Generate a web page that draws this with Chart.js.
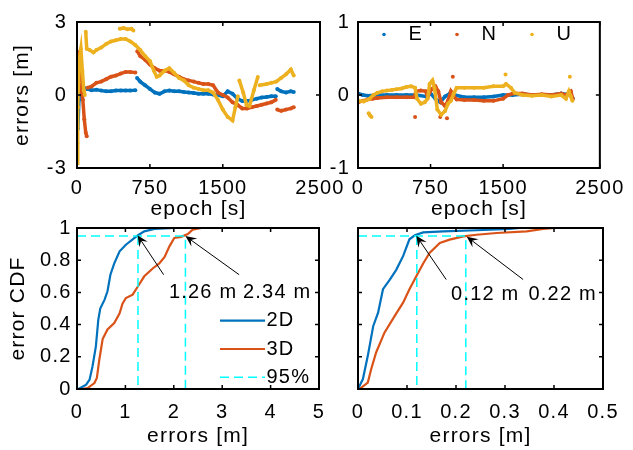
<!DOCTYPE html>
<html>
<head>
<meta charset="utf-8">
<script src="https://cdn.jsdelivr.net/npm/chart.js@4.4.0/dist/chart.umd.min.js"></script>
<style>
  html, body { margin: 0; padding: 0; background: #fff; }
  #wrap { position: relative; width: 633px; height: 450px; }
  .box { position: absolute; left: 0; top: 0; width: 633px; height: 450px; }
</style>
</head>
<body>
<div id="wrap">
  <div class="box"><canvas id="c1"></canvas></div>
  <div class="box"><canvas id="c2"></canvas></div>
  <div class="box"><canvas id="c3"></canvas></div>
  <div class="box"><canvas id="c4"></canvas></div>
</div>
<script>
// ---- data ----
// top left: errors [m] over epoch [s]
const epochE1 = [0, 8, 20, 40, 70, 100, 150, 200, 250, 300, 350, 400, 450, 500, 550, 600, 608, 618, 650, 700, 750, 800, 850, 900, 950, 1000, 1050, 1100, 1150, 1200, 1250, 1300, 1350, 1400, 1450, 1500, 1550, 1600, 1650, 1700, 1750, 1800, 1850, 1900, 1950, 2000, 2045, 2052, 2060, 2100, 2150, 2200, 2230];
const errE1 = [0.1, -1.4, -0.2, 0.35, 0.3, 0.25, 0.2, 0.22, 0.18, 0.15, 0.15, 0.18, 0.18, 0.18, 0.18, 0.2, null, 0.7, 0.55, 0.4, 0.25, 0.1, 0.05, 0.15, 0.18, 0.15, 0.15, 0.12, 0.1, 0.08, 0.05, 0.05, 0.05, 0.02, 0.0, -0.05, 0.15, 0.05, -0.15, -0.25, -0.25, -0.2, -0.15, -0.1, -0.08, -0.05, -0.05, null, 0.25, 0.15, 0.1, 0.15, 0.12];

const epochN1 = [0, 10, 20, 30, 45, 60, 75, 90, 100, 105, 110, 150, 200, 250, 300, 350, 400, 450, 500, 550, 600, 610, 620, 650, 700, 750, 800, 850, 900, 950, 1000, 1050, 1100, 1150, 1200, 1250, 1300, 1350, 1400, 1450, 1500, 1550, 1600, 1650, 1700, 1750, 1800, 1850, 1900, 1950, 2000, 2045, 2052, 2060, 2100, 2150, 2200, 2230];
const errN1 = [1.8, 1.5, 1.2, 0.8, 0.2, -0.2, -1.0, -1.55, -1.7, null, 0.3, 0.35, 0.5, 0.55, 0.65, 0.75, 0.8, 0.88, 0.95, 0.95, 0.92, null, 1.8, 1.6, 1.45, 1.25, 1.1, 1.0, 1.0, 0.95, 0.85, 0.75, 0.65, 0.6, 0.55, 0.5, 0.45, 0.45, 0.4, 0.1, 0.0, -0.1, -0.3, -0.4, -0.55, -0.55, -0.5, -0.45, -0.4, -0.35, -0.3, -0.2, null, -0.6, -0.65, -0.6, -0.55, -0.5];

const epochU1 = [0, 5, 10, 15, 25, 40, 55, 70, 80, 85, 90, 100, 130, 170, 200, 250, 300, 350, 400, 450, 500, 550, 600, 650, 700, 750, 790, 820, 850, 900, 950, 1000, 1050, 1100, 1150, 1200, 1250, 1300, 1350, 1400, 1450, 1500, 1550, 1600, 1630, 1655, 1662, 1670, 1710, 1745, 1775, 1820, 1860, 1870, 1880, 1950, 2000, 2050, 2100, 2150, 2200, 2230, 2235, 440, 480, 520, 560, 580];
const errU1 = [-2.8, -2.0, -0.5, 0.5, 1.5, 1.9, 1.0, 0.2, 0.0, null, 2.6, 1.9, 1.85, 1.75, 1.85, 1.95, 2.1, 2.2, 2.25, 2.3, 2.3, 2.2, 2.05, 1.85, 1.6, 1.4, 1.0, 0.75, 0.8, 1.0, 1.1, 0.9, 0.7, 0.6, 0.4, 0.3, 0.25, 0.2, 0.2, 0.1, -0.2, -0.6, -0.9, -1.05, -0.5, -0.05, null, 0.6, 0.1, -0.42, -0.45, 0.2, 0.74, null, 0.4, 0.45, 0.5, 0.55, 0.7, 0.85, 1.05, 0.8, null, 2.72, 2.75, 2.7, 2.72, 2.65];

// top right
const epochE2 = [0, 50, 100, 200, 300, 400, 500, 600, 700, 750, 800, 850, 900, 950, 1000, 1100, 1200, 1300, 1400, 1500, 1600, 1700, 1800, 1900, 2000, 2100, 2200, 2220];
const errE2 = [0.02, 0.0, -0.01, 0.0, 0.0, 0.0, 0.0, 0.0, -0.02, 0.02, -0.05, -0.1, -0.02, 0.02, 0.0, -0.03, -0.03, -0.03, -0.02, 0.0, 0.0, 0.01, 0.0, 0.0, 0.0, 0.02, 0.0, -0.05];

const epochN2 = [0, 50, 100, 150, 200, 300, 400, 500, 580, 600, 650, 700, 720, 760, 800, 830, 860, 900, 930, 960, 990, 1020, 1100, 1200, 1300, 1400, 1500, 1550, 1600, 1700, 1800, 1900, 2000, 2100, 2150, 2200, 2220, 2225, 590, 595, 850, 855, 920, 925, 980];
const errN2 = [-0.1, -0.08, -0.06, -0.05, -0.04, -0.03, -0.03, -0.03, -0.03, 0.05, 0.06, 0.05, -0.02, 0.08, 0.12, 0.05, -0.1, -0.15, -0.08, 0.05, -0.02, -0.06, -0.07, -0.07, -0.08, -0.08, -0.05, 0.0, 0.02, 0.02, 0.0, 0.01, 0.0, 0.02, 0.0, 0.05, -0.05, null, -0.3, null, -0.3, null, -0.32, null, 0.25];

const epochU2 = [0, 60, 120, 160, 200, 250, 300, 350, 400, 450, 500, 550, 590, 610, 650, 690, 720, 740, 770, 790, 820, 860, 900, 930, 960, 990, 1020, 1100, 1200, 1300, 1400, 1500, 1530, 1580, 1620, 1700, 1800, 1900, 2000, 2100, 2150, 2180, 2200, 2217, 2220, 110, 125, 140, 145, 1525, 1530, 2190];
const errU2 = [-0.08, -0.09, -0.05, 0.0, 0.03, 0.05, 0.06, 0.07, 0.08, 0.09, 0.11, 0.12, 0.1, -0.05, -0.12, -0.1, -0.05, 0.15, 0.2, 0.1, -0.2, -0.27, -0.22, -0.12, -0.08, 0.02, 0.1, 0.1, 0.1, 0.1, 0.12, 0.12, 0.15, 0.1, 0.03, 0.0, -0.01, 0.0, -0.02, 0.0, -0.05, 0.05, -0.02, -0.08, null, -0.25, -0.28, -0.3, null, 0.28, null, 0.25];

// bottom left: CDF of errors
const cdfErr2dL = [0.03, 0.19, 0.26, 0.32, 0.39, 0.44, 0.48, 0.57, 0.63, 0.69, 0.77, 0.88, 1.01, 1.15, 1.26, 1.39, 1.6, 2.01, 2.43];
const cdfProb2dL = [0, 0.027, 0.058, 0.14, 0.265, 0.43, 0.5, 0.555, 0.607, 0.71, 0.78, 0.855, 0.896, 0.93, 0.955, 0.979, 0.994, 1.0, 1.0];
const cdfErr3dL = [0.08, 0.22, 0.36, 0.41, 0.46, 0.53, 0.63, 0.77, 0.88, 0.94, 1.01, 1.15, 1.26, 1.39, 1.57, 1.7, 1.81, 1.91, 2.01, 2.15, 2.29, 2.39, 2.57, 4.01];
const cdfProb3dL = [0, 0.006, 0.037, 0.068, 0.18, 0.31, 0.37, 0.41, 0.47, 0.53, 0.565, 0.586, 0.638, 0.7, 0.75, 0.78, 0.82, 0.886, 0.938, 0.945, 0.963, 0.99, 1.0, 1.0];
const p95LineL = [1.26, 2.24];
const p95LabelL = [1.26, 2.34];

// bottom right
const cdfErr2dR = [0, 0.01, 0.02, 0.031, 0.041, 0.051, 0.065, 0.078, 0.092, 0.105, 0.116, 0.133, 0.174, 0.242, 0.31, 0.33];
const cdfProb2dR = [0, 0.062, 0.206, 0.39, 0.474, 0.62, 0.68, 0.74, 0.825, 0.93, 0.955, 0.973, 0.979, 0.986, 0.994, 1.0];
const cdfErr3dR = [0.003, 0.02, 0.027, 0.037, 0.054, 0.075, 0.092, 0.105, 0.119, 0.133, 0.146, 0.167, 0.187, 0.215, 0.242, 0.283, 0.344, 0.378, 0.402];
const cdfProb3dR = [0, 0.04, 0.124, 0.227, 0.35, 0.454, 0.536, 0.619, 0.7, 0.78, 0.845, 0.907, 0.928, 0.948, 0.958, 0.969, 0.979, 0.994, 1.0];
const p95LineR = [0.12, 0.22];
const p95LabelR = [0.12, 0.22];

const cdfLevel = 0.95;

// tick values
const epochTicks = [0, 750, 1500, 2500];
const errTicksWide = [-3, 0, 3];
const errTicksNarrow = [-1, 0, 1];
const cdfTicks = [0, 0.2, 0.4, 0.6, 0.8, 1];
const errTicksL = [0, 1, 2, 3, 4, 5];
const errTicksR = [0, 0.1, 0.2, 0.3, 0.4, 0.5];

// ---- look ----
const BLUE = '#0072BD', ORANGE = '#D95319', YELLOW = '#EDB120', CYAN = '#00FFFF';
const FONT = '"Liberation Sans", Arial, Helvetica, sans-serif';
const LS = '1.2px';
const TICK_SIZE = 20, TITLE_SIZE = 21;

Chart.defaults.font.family = FONT;
Chart.defaults.color = '#000';
Chart.defaults.animation = false;
Chart.defaults.plugins.legend.display = false;
Chart.defaults.plugins.tooltip.enabled = false;

function xy(xs, ys) {
  return xs.map((x, i) => ({x: x, y: ys[i]}));
}

// letter spacing so the text runs as wide as in the figure
const spacing = {
  id: 'spacing',
  beforeUpdate(chart) { chart.ctx.letterSpacing = LS; },
  beforeDraw(chart) { chart.ctx.letterSpacing = LS; }
};

// box round the plot with inward tick marks on all four sides
const frame = {
  id: 'frame',
  afterDatasetsDraw(chart) {
    const {ctx, chartArea: a, scales} = chart;
    const L = 4;
    ctx.save();
    ctx.strokeStyle = '#000';
    ctx.lineWidth = 1.5;
    ctx.beginPath();
    scales.x.ticks.forEach(t => {
      const px = scales.x.getPixelForValue(t.value);
      ctx.moveTo(px, a.bottom); ctx.lineTo(px, a.bottom - L);
      ctx.moveTo(px, a.top); ctx.lineTo(px, a.top + L);
    });
    scales.y.ticks.forEach(t => {
      const py = scales.y.getPixelForValue(t.value);
      ctx.moveTo(a.left, py); ctx.lineTo(a.left + L, py);
      ctx.moveTo(a.right, py); ctx.lineTo(a.right - L, py);
    });
    ctx.stroke();
    ctx.lineWidth = 2;
    ctx.strokeRect(a.left, a.top, a.right - a.left, a.bottom - a.top);
    ctx.restore();
  }
};

// legend drawn inside the plot box, from the datasets
const key = {
  id: 'key',
  afterDraw(chart, args, opts) {
    if (!opts || !opts.entries) return;
    const {ctx, chartArea: a} = chart;
    ctx.save();
    ctx.letterSpacing = LS;
    ctx.font = TICK_SIZE + 'px ' + FONT;
    ctx.textBaseline = 'middle';
    ctx.textAlign = 'left';
    opts.entries.forEach(e => {
      const ds = chart.data.datasets[e.index];
      const x = a.left + e.dx, y = a.top + e.dy;
      if (opts.sample === 'dot') {
        ctx.fillStyle = ds.borderColor;
        ctx.beginPath(); ctx.arc(x, y, 1.8, 0, Math.PI * 2); ctx.fill();
      } else {
        ctx.strokeStyle = ds.borderColor;
        ctx.lineWidth = ds.borderWidth;
        ctx.setLineDash(ds.borderDash || []);
        ctx.beginPath(); ctx.moveTo(x, y); ctx.lineTo(x + opts.len, y); ctx.stroke();
        ctx.setLineDash([]);
      }
      ctx.fillStyle = '#000';
      ctx.fillText(ds.label, x + opts.gap, y);
    });
    ctx.restore();
  }
};

// text arrows pointing at the 95% values
const notes = {
  id: 'notes',
  afterDraw(chart, args, opts) {
    if (!opts || !opts.items) return;
    const {ctx, scales: {x, y}} = chart;
    ctx.save();
    ctx.letterSpacing = LS;
    ctx.font = TICK_SIZE + 'px ' + FONT;
    ctx.fillStyle = '#000';
    ctx.strokeStyle = '#000';
    ctx.lineWidth = 1;
    ctx.textBaseline = 'middle';
    ctx.textAlign = 'left';
    opts.items.forEach(it => {
      const x0 = x.getPixelForValue(it.tail[0]), y0 = y.getPixelForValue(it.tail[1]);
      const x1 = x.getPixelForValue(it.head[0]), y1 = y.getPixelForValue(it.head[1]);
      const ang = Math.atan2(y1 - y0, x1 - x0);
      const c = Math.cos(ang), s = Math.sin(ang);
      const len = 11, w = 5;
      ctx.beginPath(); ctx.moveTo(x0, y0); ctx.lineTo(x1 - c * 6, y1 - s * 6); ctx.stroke();
      ctx.beginPath();
      ctx.moveTo(x1, y1);
      ctx.lineTo(x1 - c * len - s * w, y1 - s * len + c * w);
      ctx.lineTo(x1 - c * len * 0.6, y1 - s * len * 0.6);
      ctx.lineTo(x1 - c * len + s * w, y1 - s * len - c * w);
      ctx.closePath();
      ctx.fill();
      ctx.fillText(it.text, x.getPixelForValue(it.at[0]), y.getPixelForValue(it.at[1]));
    });
    ctx.restore();
  }
};

Chart.register(spacing, frame, key, notes);

function axis(o) {
  return {
    type: 'linear',
    position: o.position,
    min: o.min,
    max: o.max,
    grid: {display: false, drawTicks: false},
    border: {display: false},
    afterBuildTicks: s => { s.ticks = o.ticks.map(v => ({value: v})); },
    afterFit: s => { if (o.position === 'bottom') s.height = o.size; else s.width = o.size; },
    ticks: {
      display: o.labels !== false,
      padding: o.pad,
      autoSkip: false,
      maxRotation: 0,
      minRotation: 0,
      font: {size: TICK_SIZE},
      callback: v => String(v)
    },
    title: {display: !!o.title, text: o.title || '', font: {size: TITLE_SIZE}, padding: 0}
  };
}

function track(label, color, order, xs, ys) {
  return {
    label: label, data: xy(xs, ys), order: order,
    borderColor: color, backgroundColor: color,
    borderWidth: 3.5, pointRadius: 2, pointBorderWidth: 0, pointHoverRadius: 0,
    spanGaps: false, tension: 0
  };
}

function curve(label, color, order, xs, ys) {
  return {
    label: label, data: xy(xs, ys), order: order,
    borderColor: color, backgroundColor: color,
    borderWidth: 2.2, pointRadius: 0, tension: 0
  };
}

function p95Dataset(vals) {
  const far = Math.max(...vals);
  const pts = [{x: 0, y: cdfLevel}, {x: far, y: cdfLevel}, {x: far, y: 0}];
  vals.filter(v => v !== far).forEach(v => {
    pts.push({x: v, y: null}, {x: v, y: cdfLevel}, {x: v, y: 0});
  });
  return {
    label: Math.round(cdfLevel * 100) + '%', data: pts, order: 0,
    borderColor: CYAN, borderWidth: 1.5, borderDash: [9, 5], pointRadius: 0, spanGaps: false
  };
}

const base = {responsive: true, maintainAspectRatio: false};

// top left
new Chart(document.getElementById('c1'), {
  type: 'line',
  data: {datasets: [
    track('E', BLUE, 2, epochE1, errE1),
    track('N', ORANGE, 1, epochN1, errN1),
    track('U', YELLOW, 0, epochU1, errU1)
  ]},
  options: Object.assign({}, base, {
    layout: {padding: {left: 10, top: 22, right: 313, bottom: 228}},
    scales: {
      x: axis({position: 'bottom', min: 0, max: 2500, ticks: epochTicks, pad: 8.5, size: 54, title: 'epoch [s]'}),
      y: axis({position: 'left', min: -3, max: 3, ticks: errTicksWide, pad: 10, size: 67, title: 'errors [m]'})
    }
  })
});

// top right
new Chart(document.getElementById('c2'), {
  type: 'line',
  data: {datasets: [
    track('E', BLUE, 2, epochE2, errE2),
    track('N', ORANGE, 1, epochN2, errN2),
    track('U', YELLOW, 0, epochU2, errU2)
  ]},
  options: Object.assign({}, base, {
    layout: {padding: {left: 318, top: 22, right: 28, bottom: 228}},
    scales: {
      x: axis({position: 'bottom', min: 0, max: 2500, ticks: epochTicks, pad: 8.5, size: 54, title: 'epoch [s]'}),
      y: axis({position: 'left', min: -1, max: 1, ticks: errTicksNarrow, pad: 8, size: 40})
    },
    plugins: {
      key: {sample: 'dot', gap: 24.5, entries: [
        {index: 0, dx: 26, dy: 12.5},
        {index: 1, dx: 99, dy: 12.5},
        {index: 2, dx: 174, dy: 12.5}
      ]}
    }
  })
});

// bottom left
new Chart(document.getElementById('c3'), {
  type: 'line',
  data: {datasets: [
    curve('2D', BLUE, 1, cdfErr2dL, cdfProb2dL),
    curve('3D', ORANGE, 2, cdfErr3dL, cdfProb3dL),
    p95Dataset(p95LineL)
  ]},
  options: Object.assign({}, base, {
    layout: {padding: {left: 5.5, top: 228, right: 314, bottom: 1}},
    scales: {
      x: axis({position: 'bottom', min: 0, max: 5, ticks: errTicksL, pad: 11, size: 60, title: 'errors [m]'}),
      y: axis({position: 'left', min: 0, max: 1, ticks: cdfTicks, pad: 5.5, size: 71.5, title: 'error CDF'})
    },
    plugins: {
      key: {sample: 'line', len: 45, gap: 46.5, entries: [
        {index: 0, dx: 143, dy: 92.7},
        {index: 1, dx: 143, dy: 121},
        {index: 2, dx: 143, dy: 149.3}
      ]},
      notes: {items: [
        {tail: [1.79, 0.71], head: [1.25, 0.955], at: [1.9, 0.6], text: p95LabelL[0].toFixed(2) + ' m'},
        {tail: [3.35, 0.71], head: [2.24, 0.95], at: [3.43, 0.6], text: p95LabelL[1].toFixed(2) + ' m'}
      ]}
    }
  })
});

// bottom right
new Chart(document.getElementById('c4'), {
  type: 'line',
  data: {datasets: [
    curve('2D', BLUE, 1, cdfErr2dR, cdfProb2dR),
    curve('3D', ORANGE, 2, cdfErr3dR, cdfProb3dR),
    p95Dataset(p95LineR)
  ]},
  options: Object.assign({}, base, {
    layout: {padding: {left: 348, top: 228, right: 30, bottom: 1}},
    scales: {
      x: axis({position: 'bottom', min: 0, max: 0.5, ticks: errTicksR, pad: 11, size: 60, title: 'errors [m]'}),
      y: axis({position: 'left', min: 0, max: 1, ticks: cdfTicks, pad: 0, size: 10, labels: false})
    },
    plugins: {
      notes: {items: [
        {tail: [0.18, 0.68], head: [0.119, 0.952], at: [0.19, 0.587], text: p95LabelR[0].toFixed(2) + ' m'},
        {tail: [0.337, 0.68], head: [0.222, 0.946], at: [0.348, 0.587], text: p95LabelR[1].toFixed(2) + ' m'}
      ]}
    }
  })
});
</script>
</body>
</html>
